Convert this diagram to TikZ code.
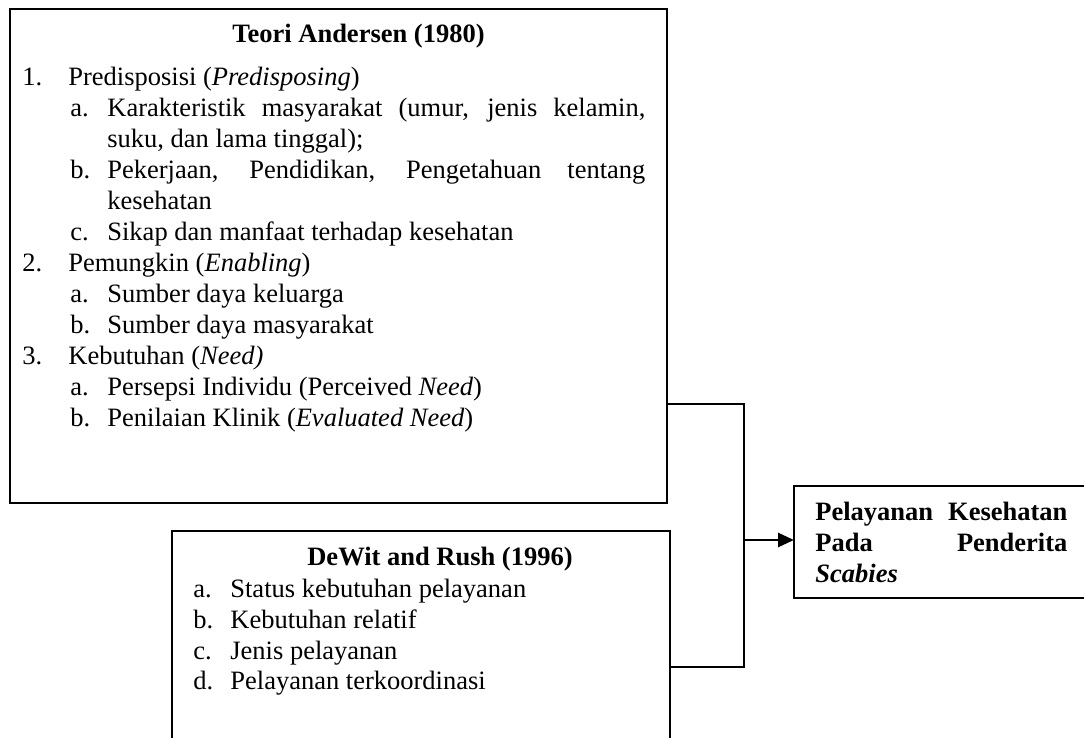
\documentclass[tikz,border=0pt]{standalone}
\usepackage{fontspec}
\setmainfont{Liberation Serif}
\usetikzlibrary{arrows.meta}

\tikzset{
  box/.style={draw, line width=1pt, inner sep=0pt, outer sep=0pt, anchor=north west},
  listtext/.style={anchor=base west, inner sep=0pt, align=justify, font=\fontsize{13.25pt}{15.5pt}\selectfont},
  titletext/.style={anchor=base, inner sep=0pt, font=\fontsize{13.25pt}{15.5pt}\selectfont\bfseries},
  link/.style={line width=1.4pt},
}
\newcommand{\numitm}[2]{\hangindent=23pt\hangafter=1\noindent\makebox[23pt][l]{#1}#2\par}
\newcommand{\subitm}[2]{\hangindent=42.5pt\hangafter=1\noindent\hspace*{24pt}\makebox[18.5pt][l]{#1}#2\par}
\newcommand{\letitm}[2]{\hangindent=18.5pt\hangafter=1\noindent\makebox[18.5pt][l]{#1}#2\par}

\begin{document}
\begin{tikzpicture}[x=0.5pt, y=-0.5pt]
  \useasboundingbox (0,0) rectangle (1084,738);

  % Define boxes
  \node[box, minimum width=328.5pt, minimum height=247pt] (andersen) at (10,9) {};
  \node[box, minimum width=249pt, minimum height=105.5pt] (dewit) at (172,531) {};
  \node[box, minimum width=147pt, minimum height=56pt] (layanan) at (794,486) {};

  % Texts in the boxes
  \node[titletext] (andersen_title) at (358.5,43) {Teori Andersen (1980)};
  \node[listtext, text width=311.5pt] (andersen_list) at (22,86) {%
    \numitm{1.}{Predisposisi (\textit{Predisposing})}%
    \subitm{a.}{Karakteristik masyarakat (umur, jenis kelamin,\linebreak suku, dan lama tinggal);}%
    \subitm{b.}{Pekerjaan, Pendidikan, Pengetahuan tentang\linebreak kesehatan}%
    \subitm{c.}{Sikap dan manfaat terhadap kesehatan}%
    \numitm{2.}{Pemungkin (\textit{Enabling})}%
    \subitm{a.}{Sumber daya keluarga}%
    \subitm{b.}{Sumber daya masyarakat}%
    \numitm{3.}{Kebutuhan (\textit{Need)}}%
    \subitm{a.}{Persepsi Individu (Perceived \textit{Need})}%
    \subitm{b.}{Penilaian Klinik (\textit{Evaluated Need})}};

  \node[titletext] (dewit_title) at (440,566) {DeWit and Rush (1996)};
  \node[listtext, text width=230pt] (dewit_list) at (193,597) {%
    \letitm{a.}{Status kebutuhan pelayanan}%
    \letitm{b.}{Kebutuhan relatif}%
    \letitm{c.}{Jenis pelayanan}%
    \letitm{d.}{Pelayanan terkoordinasi}};

  \node[listtext, text width=126pt, font=\fontsize{13.25pt}{15.5pt}\selectfont\bfseries] (layanan_text) at (815,521) {%
    Pelayanan\hfill Kesehatan\par
    Pada\hfill Penderita\par
    \textit{Scabies}};

  % Define junctions
  \coordinate (j_top) at (744,404);
  \coordinate (j_mid) at (744,540);
  \coordinate (j_bot) at (744,667);

  % Draw connectors
  \draw[link] (andersen.east |- j_top) -- (j_top) -- (j_bot) -- (dewit.east |- j_bot);
  \draw[link, -{Triangle[length=8pt, width=7pt]}] (j_mid) -- (j_mid -| layanan.west);
\end{tikzpicture}
\end{document}
